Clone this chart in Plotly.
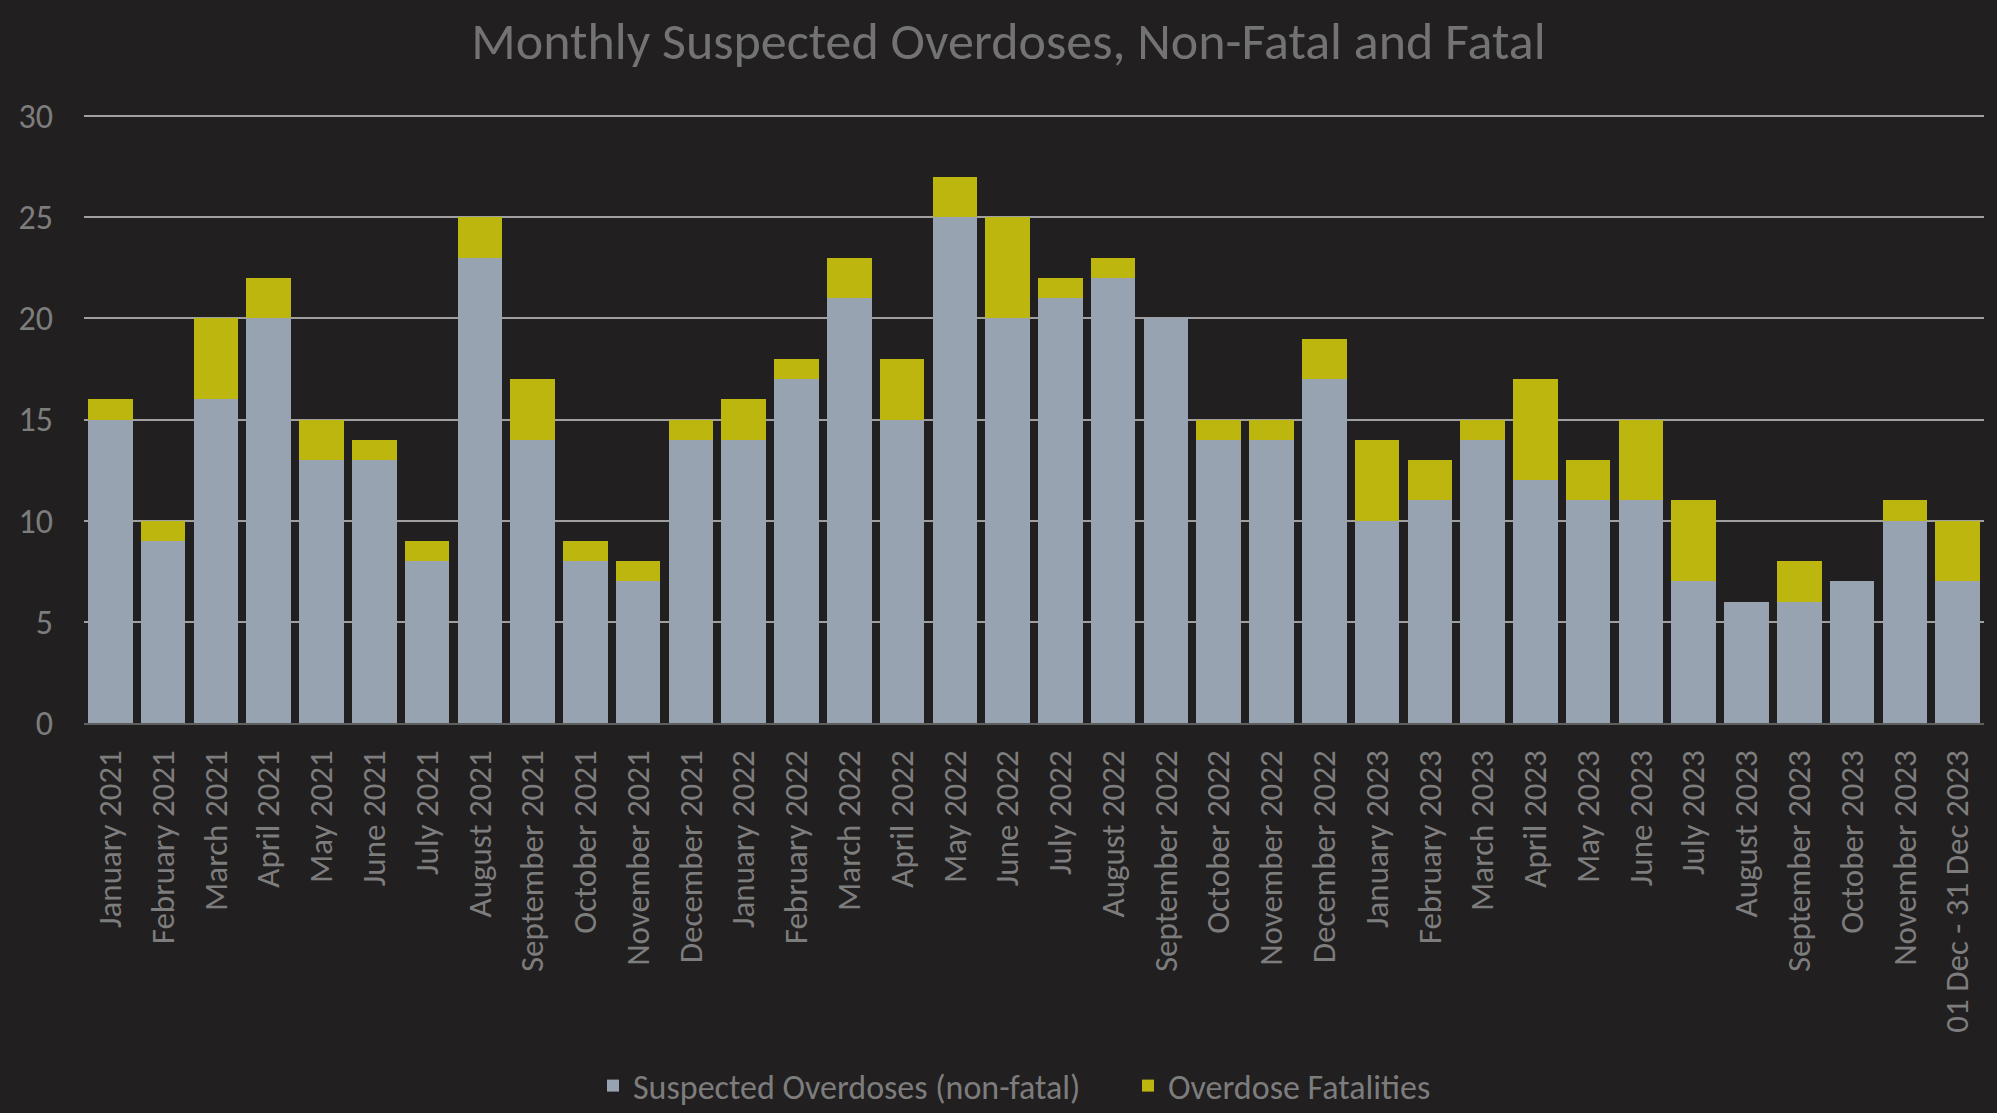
import plotly.graph_objects as go

months = ["January 2021", "February 2021", "March 2021", "April 2021", "May 2021", "June 2021",
          "July 2021", "August 2021", "September 2021", "October 2021", "November 2021", "December 2021",
          "January 2022", "February 2022", "March 2022", "April 2022", "May 2022", "June 2022",
          "July 2022", "August 2022", "September 2022", "October 2022", "November 2022", "December 2022",
          "January 2023", "February 2023", "March 2023", "April 2023", "May 2023", "June 2023",
          "July 2023", "August 2023", "September 2023", "October 2023", "November 2023",
          "01 Dec - 31 Dec 2023"]
non_fatal = [15, 9, 16, 20, 13, 13, 8, 23, 14, 8, 7, 14,
             14, 17, 21, 15, 25, 20, 21, 22, 20, 14, 14, 17,
             10, 11, 14, 12, 11, 11, 7, 6, 6, 7, 10, 7]
fatal = [1, 1, 4, 2, 2, 1, 1, 2, 3, 1, 1, 1,
         2, 1, 2, 3, 2, 5, 1, 1, 0, 1, 1, 2,
         4, 2, 1, 5, 2, 4, 4, 0, 2, 0, 1, 3]
y_ticks = [0, 5, 10, 15, 20, 25, 30]

FONT = "Carlito, Lato, sans-serif"
BG = "#221f20"

fig = go.Figure()
fig.add_trace(go.Bar(x=months, y=non_fatal, name="Suspected Overdoses (non-fatal)",
                     marker=dict(color="#97a3b0", line=dict(width=0))))
fig.add_trace(go.Bar(x=months, y=fatal, name="Overdose Fatalities",
                     marker=dict(color="#bdb60e", line=dict(width=0))))

fig.update_layout(
    barmode="stack",
    bargap=0.155,
    width=1997, height=1113,
    paper_bgcolor=BG, plot_bgcolor=BG,
    margin=dict(l=84, r=13, t=114, b=390),
    font=dict(family=FONT, color="#7d7d7d", size=33),
    title=dict(text="Monthly Suspected Overdoses, Non-Fatal and Fatal",
               x=0.505, xanchor="center", y=1 - 41 / 1113, yanchor="middle",
               font=dict(family=FONT, size=52, color="#737373")),
    legend=dict(orientation="h", xref="container", x=593 / 1997, xanchor="left",
                yref="container", y=1 - 1086 / 1113, yanchor="middle",
                font=dict(family=FONT, size=34, color="#7d7d7d"), bgcolor="rgba(0,0,0,0)",
                traceorder="normal", itemwidth=30, entrywidth=490),
    showlegend=True,
)
fig.update_yaxes(range=[0, 30.1], tickvals=y_ticks, showgrid=True, gridcolor="#a0a0a0", gridwidth=2,
                 zeroline=False, ticklabelstandoff=30, tickfont=dict(size=34, color="#7d7d7d"))
fig.update_xaxes(tickangle=-90, showline=True, linecolor="#5f5f5f", linewidth=2,
                 ticklabelstandoff=12, tickfont=dict(size=33, color="#7d7d7d"))

fig.write_html("out.html", config={"displayModeBar": False},
               post_script="document.body.style.margin='0';document.body.style.background='#221f20';")
